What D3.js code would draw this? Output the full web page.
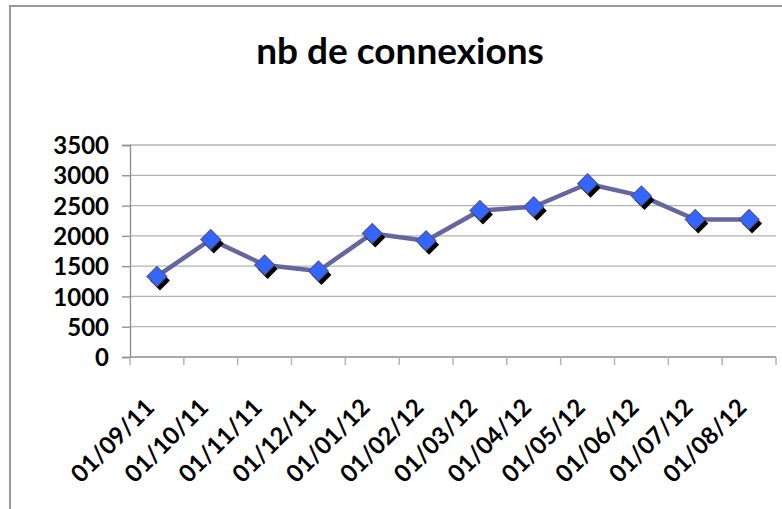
<!DOCTYPE html>
<html>
<head>
<meta charset="utf-8">
<script src="https://cdn.jsdelivr.net/npm/d3@7"></script>
<style>
  body { margin: 0; background: #fff; }
  text { font-family: Lato, "Open Sans", sans-serif; font-weight: bold; fill: #000; }
</style>
</head>
<body>
<div id="chart"></div>
<script>
// data
var months = ["01/09/11", "01/10/11", "01/11/11", "01/12/11", "01/01/12", "01/02/12",
              "01/03/12", "01/04/12", "01/05/12", "01/06/12", "01/07/12", "01/08/12"];
var connexions = [1330, 1940, 1520, 1420, 2040, 1920, 2420, 2480, 2860, 2660, 2270, 2270];
var yTicks = [0, 500, 1000, 1500, 2000, 2500, 3000, 3500];
var title = "nb de connexions";

var W = 782, H = 509;
var margin = {top: 145, right: 6, bottom: 152, left: 130};
var width = W - margin.left - margin.right,
    height = H - margin.top - margin.bottom;

var svg = d3.select("#chart").append("svg")
    .attr("width", W)
    .attr("height", H);

// outer chart border (runs off the right and bottom edges)
svg.append("path")
    .attr("d", "M10,600 V6 H800")
    .attr("fill", "none")
    .attr("stroke", "#9a9a9a")
    .attr("stroke-width", 2);

svg.append("text")
    .attr("x", 400)
    .attr("y", 64)
    .attr("text-anchor", "middle")
    .style("font-size", "37px")
    .text(title);

var main = svg.append("g")
    .attr("transform", "translate(" + margin.left + "," + margin.top + ")");

var x = d3.scaleBand()
    .domain(months)
    .range([0, width]);

var y = d3.scaleLinear()
    .domain([0, 3500])
    .range([height, 0]);

// gridlines
main.append("g")
    .selectAll("line")
    .data(yTicks.slice(1))
    .enter().append("line")
    .attr("x1", 0)
    .attr("x2", width)
    .attr("y1", function (d) { return y(d); })
    .attr("y2", function (d) { return y(d); })
    .attr("stroke", "#b3b3b3")
    .attr("stroke-width", 1.3);

// y axis
var yAxis = main.append("g")
    .call(d3.axisLeft(y).tickValues(yTicks).tickFormat(d3.format("d")).tickSize(8).tickPadding(13));
yAxis.select(".domain").attr("stroke", "#8c8c8c").attr("stroke-width", 1.3);
yAxis.selectAll(".tick line").attr("stroke", "#8c8c8c").attr("stroke-width", 1.3);
yAxis.selectAll("text")
    .style("font-size", "24px")
    .attr("dy", "0.36em");

// x axis: ticks at category boundaries
var xAxis = main.append("g")
    .attr("transform", "translate(0," + height + ")");
xAxis.append("line")
    .attr("x1", 0).attr("x2", width)
    .attr("stroke", "#8c8c8c").attr("stroke-width", 1.3);
xAxis.selectAll(".xtick")
    .data(months.concat(["end"]))
    .enter().append("line")
    .attr("class", "xtick")
    .attr("x1", function (d, i) { return i < months.length ? x(d) : width; })
    .attr("x2", function (d, i) { return i < months.length ? x(d) : width; })
    .attr("y1", 0).attr("y2", 8)
    .attr("stroke", "#b3b3b3").attr("stroke-width", 1.5);

xAxis.selectAll(".xlabel")
    .data(months)
    .enter().append("text")
    .attr("class", "xlabel")
    .attr("text-anchor", "end")
    .attr("transform", function (d) {
        return "translate(" + (x(d) + x.bandwidth() / 2 - 1) + ",52) rotate(-45)";
    })
    .style("font-size", "24px")
    .text(function (d) { return d; });

// series
var cx = function (d, i) { return x(months[i]) + x.bandwidth() / 2; };
var line = d3.line()
    .x(function (d, i) { return cx(d, i); })
    .y(function (d) { return y(d); });

main.append("path")
    .datum(connexions)
    .attr("d", line)
    .attr("fill", "none")
    .attr("stroke", "#65659f")
    .attr("stroke-width", 4.5)
    .attr("stroke-linejoin", "round");

var diamond = d3.symbol().type(d3.symbolSquare).size(200);

// marker shadows
main.append("g").selectAll("path")
    .data(connexions)
    .enter().append("path")
    .attr("d", diamond)
    .attr("transform", function (d, i) {
        return "translate(" + (cx(d, i) + 3) + "," + (y(d) + 4) + ") rotate(45)";
    })
    .attr("fill", "#000");

main.append("g").selectAll("path")
    .data(connexions)
    .enter().append("path")
    .attr("d", diamond)
    .attr("transform", function (d, i) {
        return "translate(" + cx(d, i) + "," + y(d) + ") rotate(45)";
    })
    .attr("fill", "#3366ff")
    .attr("stroke", "#4f4f86")
    .attr("stroke-width", 1);
</script>
</body>
</html>
